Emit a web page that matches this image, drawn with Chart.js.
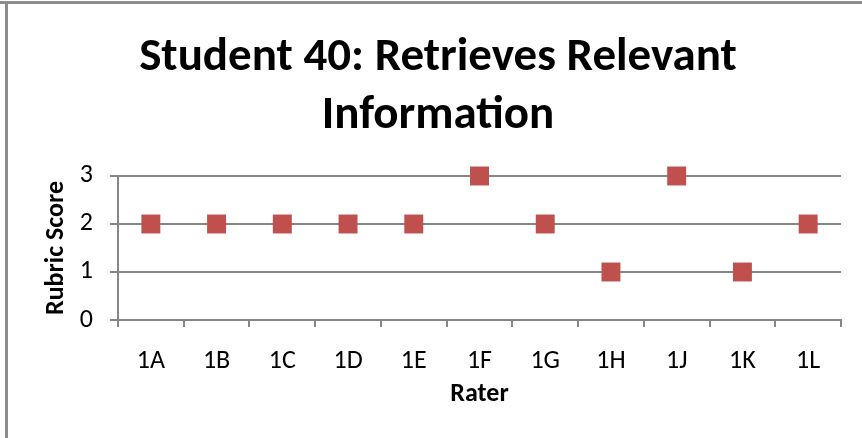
<!DOCTYPE html>
<html>
<head>
<meta charset="utf-8">
<script src="https://cdn.jsdelivr.net/npm/chart.js@4"></script>
<style>
  html, body { margin: 0; padding: 0; background: #fff; }
  #wrap { position: relative; width: 862px; height: 438px; overflow: hidden; }
  #frameTop { position: absolute; left: 0; top: 1px; width: 862px; height: 3px; background: #8c8c8c; }
  #frameLeft { position: absolute; left: 5px; top: 1px; width: 3px; height: 437px; background: #8c8c8c; }
  canvas { position: absolute; left: 0; top: 0; }
</style>
</head>
<body>
<div id="wrap">
  <canvas id="chart" width="862" height="438"></canvas>
  <div id="frameTop"></div>
  <div id="frameLeft"></div>
</div>
<script>
// Raters along the x axis and the score each one gave
const raters = ['1A', '1B', '1C', '1D', '1E', '1F', '1G', '1H', '1J', '1K', '1L'];
const scores = [2, 2, 2, 2, 2, 3, 2, 1, 3, 1, 2];
const yTicks = [0, 1, 2, 3];

const titleLines = ['Student 40: Retrieves Relevant', 'Information'];
const xTitle = 'Rater';
const yTitle = 'Rubric Score';

const FONT = 'Carlito, Lato, "Open Sans", sans-serif';
const GRID = '#868686';
const MARK = '#C0504D';

new Chart(document.getElementById('chart'), {
  type: 'line',
  data: {
    labels: raters,
    datasets: [{
      data: scores,
      showLine: false,
      clip: false,
      pointStyle: 'rect',
      pointRadius: 13.4,
      pointHoverRadius: 13.4,
      backgroundColor: MARK,
      borderColor: MARK,
      borderWidth: 0
    }]
  },
  options: {
    responsive: false,
    animation: false,
    events: [],
    layout: { padding: { left: 35, right: 21, top: 0, bottom: 0 } },
    plugins: {
      legend: { display: false },
      tooltip: { enabled: false },
      title: {
        display: true,
        text: titleLines,
        color: '#000',
        font: { family: FONT, size: 47, weight: 'bold', lineHeight: 1.234 },
        padding: { top: 29, bottom: 31 }
      }
    },
    scales: {
      x: {
        type: 'category',
        offset: true,
        border: { display: true, color: GRID, width: 2 },
        grid: {
          offset: true,
          drawOnChartArea: false,
          drawTicks: true,
          tickLength: 7,
          color: GRID,
          lineWidth: 2
        },
        ticks: { color: '#000', font: { family: FONT, size: 26 }, padding: 19, maxRotation: 0 },
        title: {
          display: true,
          text: xTitle,
          color: '#000',
          font: { family: FONT, size: 26, weight: 'bold' },
          padding: { top: 0, bottom: 28 }
        },
        afterFit(scale) { scale.height = 118; }
      },
      y: {
        min: 0,
        max: 3,
        afterBuildTicks(scale) { scale.ticks = yTicks.map(v => ({ value: v })); },
        border: { display: true, color: GRID, width: 2 },
        grid: { color: GRID, lineWidth: 2, tickLength: 8 },
        ticks: { color: '#000', font: { family: FONT, size: 26 }, padding: 17 },
        title: {
          display: true,
          text: yTitle,
          color: '#000',
          font: { family: FONT, size: 26, weight: 'bold' },
          padding: { top: 6, bottom: 0 }
        },
        afterFit(scale) { scale.width = 83; }
      }
    }
  }
});
</script>
</body>
</html>
